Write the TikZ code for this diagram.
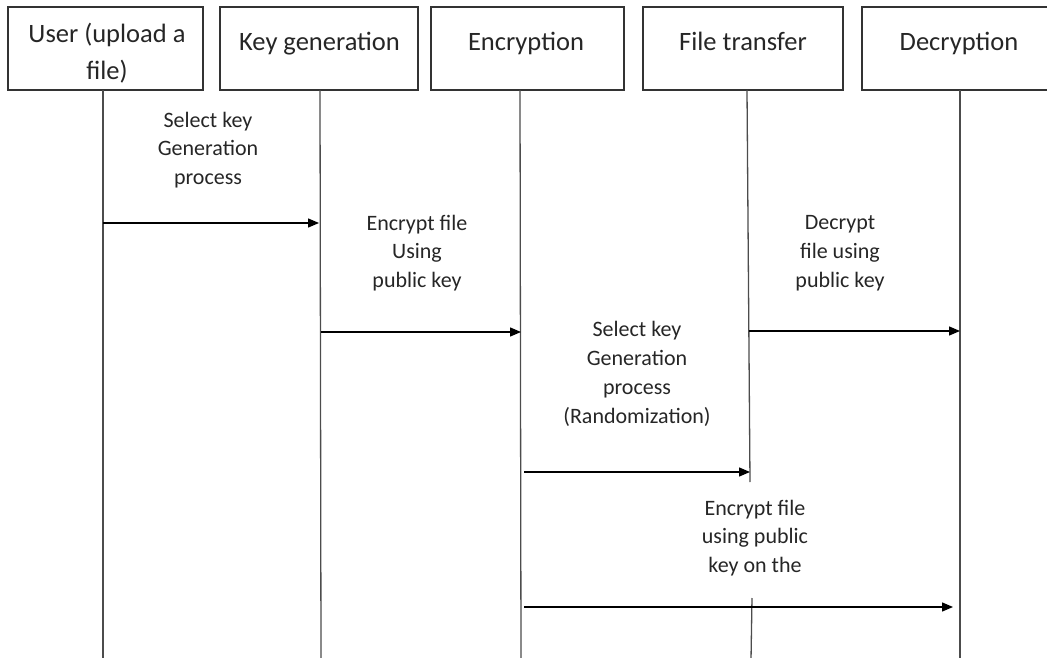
\documentclass[tikz,border=0pt]{standalone}
\usepackage{fontspec}
\setmainfont{Carlito}
\usetikzlibrary{arrows.meta}
\begin{document}
\begin{tikzpicture}[x=1pt,y=-1pt,
  actor/.style={draw=black!80,line width=1.4pt,minimum height=83pt,inner sep=0pt},
  actortext/.style={font=\fontsize{26.5}{37}\selectfont,align=center,text=black!85,inner sep=0pt},
  lifeline/.style={draw=black!70,line width=1.3pt},
  msg/.style={draw=black,line width=1.3pt,-{Triangle[length=11pt,width=9pt]}},
  msgtext/.style={font=\fontsize{22}{28.8}\selectfont,align=center,text=black!85,inner sep=0pt}]
\useasboundingbox (0,0) rectangle (1047,658);
\clip (0,0) rectangle (1047,658);

% participant boxes
\node[actor,minimum width=195pt] (b1) at (105.5,48.5) {};
\node[actor,minimum width=198pt] (b2) at (319,48.5) {};
\node[actor,minimum width=193pt] (b3) at (527.5,48.5) {};
\node[actor,minimum width=200pt] (b4) at (743,48.5) {};
\node[actor,minimum width=196pt] (b5) at (960,48.5) {};

\node[actortext] (t1) at (107,53) {User (upload a\\file)};
\node[actortext,anchor=base] (t2) at (319.5,51) {Key generation};
\node[actortext,anchor=base] (t3) at (526,51) {Encryption};
\node[actortext,anchor=base] (t4) at (743,51) {File transfer};
\node[actortext,anchor=base] (t5) at (959,51) {Decryption};

% lifelines
\coordinate (l1) at (103,90);  \coordinate (e1) at (103,660);
\coordinate (l2) at (320,90);  \coordinate (e2) at (321,660);
\coordinate (l3) at (520,90);  \coordinate (e3) at (521,660);
\coordinate (l4) at (747,90);  \coordinate (e4) at (751,660);
\coordinate (l5) at (960,90);  \coordinate (e5) at (960,660);
\coordinate (g4a) at (750,482); \coordinate (g4b) at (752,598);
\draw[lifeline] (l1) -- (e1);
\draw[lifeline] (l2) -- (e2);
\draw[lifeline] (l3) -- (e3);
\draw[lifeline] (l4) -- (g4a);
\draw[lifeline] (g4b) -- (e4);
\draw[lifeline] (l5) -- (e5);

% message end points
\coordinate (m1a) at (103,223); \coordinate (m1b) at (319,223);
\coordinate (m2a) at (321,332); \coordinate (m2b) at (521,332);
\coordinate (m3a) at (749,331); \coordinate (m3b) at (960,331);
\coordinate (m4a) at (524,472); \coordinate (m4b) at (750,472);
\coordinate (m5a) at (524,607); \coordinate (m5b) at (953,607);

\draw[msg] (m1a) -- (m1b);
\draw[msg] (m2a) -- (m2b);
\draw[msg] (m3a) -- (m3b);
\draw[msg] (m4a) -- (m4b);
\draw[msg] (m5a) -- (m5b);

% message labels
\node[msgtext] (n1) at (208,150) {Select key\\Generation\\process};
\node[msgtext] (n2) at (417,253) {Encrypt file\\Using\\public key};
\node[msgtext] (n3) at (840,253) {Decrypt\\file using\\public key};
\node[msgtext] (n4) at (637,374) {Select key\\Generation\\process\\(Randomization)};
\node[msgtext] (n5) at (755,538) {Encrypt file\\using public\\key on the};
\end{tikzpicture}
\end{document}
